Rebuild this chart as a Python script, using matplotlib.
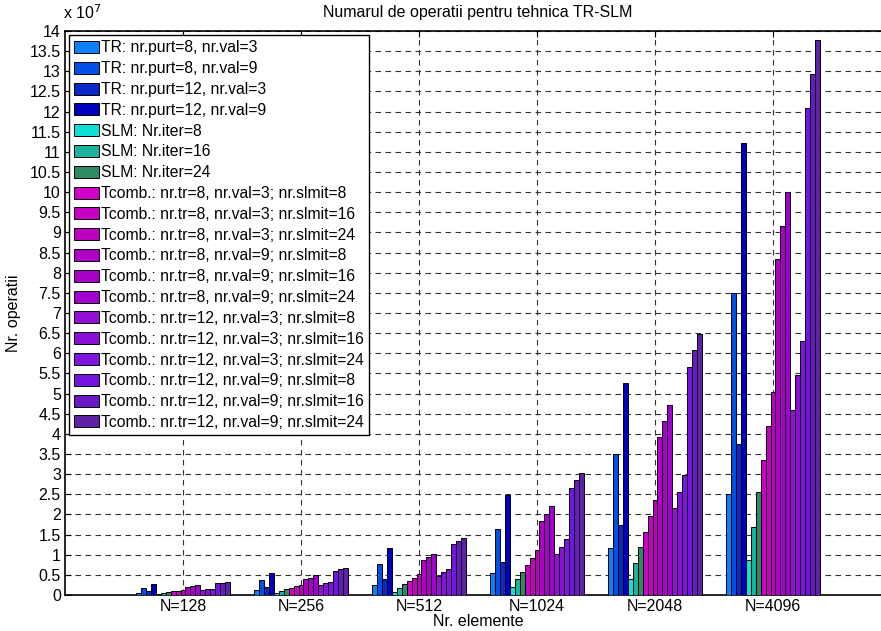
import matplotlib
matplotlib.use("Agg")
import matplotlib.pyplot as plt
import numpy as np

plt.rcParams['font.family'] = ['Liberation Sans', 'DejaVu Sans']

groups = ["N=128", "N=256", "N=512", "N=1024", "N=2048", "N=4096"]

series_labels = [
    "TR: nr.purt=8, nr.val=3",
    "TR: nr.purt=8, nr.val=9",
    "TR: nr.purt=12, nr.val=3",
    "TR: nr.purt=12, nr.val=9",
    "SLM: Nr.iter=8",
    "SLM: Nr.iter=16",
    "SLM: Nr.iter=24",
    "Tcomb.: nr.tr=8, nr.val=3; nr.slmit=8",
    "Tcomb.: nr.tr=8, nr.val=3; nr.slmit=16",
    "Tcomb.: nr.tr=8, nr.val=3; nr.slmit=24",
    "Tcomb.: nr.tr=8, nr.val=9; nr.slmit=8",
    "Tcomb.: nr.tr=8, nr.val=9; nr.slmit=16",
    "Tcomb.: nr.tr=8, nr.val=9; nr.slmit=24",
    "Tcomb.: nr.tr=12, nr.val=3; nr.slmit=8",
    "Tcomb.: nr.tr=12, nr.val=3; nr.slmit=16",
    "Tcomb.: nr.tr=12, nr.val=3; nr.slmit=24",
    "Tcomb.: nr.tr=12, nr.val=9; nr.slmit=8",
    "Tcomb.: nr.tr=12, nr.val=9; nr.slmit=16",
    "Tcomb.: nr.tr=12, nr.val=9; nr.slmit=24",
]

# values in units of 1e7, one list per group (N=128 ... N=4096), 19 series each
n128 = [0.06, 0.18, 0.10, 0.27, 0.02, 0.04, 0.07, 0.09, 0.11, 0.12, 0.19, 0.22, 0.24,
        0.12, 0.14, 0.16, 0.29, 0.31, 0.33]
n256 = [0.12, 0.36, 0.19, 0.55, 0.04, 0.09, 0.14, 0.18, 0.22, 0.26, 0.39, 0.43, 0.50,
        0.26, 0.29, 0.32, 0.59, 0.64, 0.67]
n512 = [0.26, 0.77, 0.39, 1.16, 0.08, 0.18, 0.27, 0.35, 0.43, 0.51, 0.86, 0.94, 1.03,
        0.47, 0.56, 0.65, 1.26, 1.34, 1.41]
n1024 = [0.55, 1.64, 0.82, 2.48, 0.20, 0.39, 0.56, 0.74, 0.93, 1.12, 1.84, 2.02, 2.20,
         1.03, 1.20, 1.39, 2.66, 2.85, 3.03]
n2048 = [1.17, 3.50, 1.75, 5.27, 0.40, 0.79, 1.20, 1.57, 1.97, 2.37, 3.92, 4.31, 4.71,
         2.16, 2.56, 2.97, 5.67, 6.08, 6.47]
n4096 = [2.51, 7.49, 3.74, 11.23, 0.87, 1.70, 2.55, 3.34, 4.19, 5.04, 8.33, 9.17, 10.01,
         4.59, 5.45, 6.30, 12.08, 12.93, 13.77]

colors = [
    "#0A80FF", "#0050E8", "#0A28C8", "#0000BC",
    "#10E0D4", "#18B4A0", "#2E8A62",
    "#D000C8", "#C800C4", "#BC00C0", "#B000C8", "#A800C8", "#A000D0",
    "#9410D4", "#8A10D8", "#8014E0", "#7414E0", "#6A18C4", "#6020A8",
]

data = np.array([n128, n256, n512, n1024, n2048, n4096]) * 1e7

fig = plt.figure(figsize=(8.81, 6.31), dpi=100)
ax = fig.add_axes([65 / 881, 1 - 595 / 631, (891 - 65) / 881, (595 - 31) / 631])

nser = len(series_labels)
x = np.arange(1, len(groups) + 1)
bw = 0.8 / nser
for i in range(nser):
    off = (i - (nser - 1) / 2) * bw
    ax.bar(x + off, data[:, i], width=bw, color=colors[i], edgecolor="black",
           linewidth=0.7, label=series_labels[i], zorder=3)

ax.set_xlim(0, 7)
ax.set_ylim(0, 14e7)
ax.set_xticks(x)
ax.set_xticklabels(groups, fontsize=11.5)
yt = np.arange(0, 14.01, 0.5)
ax.set_yticks(yt * 1e7)
ax.set_yticklabels([("%g" % v) for v in yt], fontsize=11.5)
ax.tick_params(direction="in", length=4, width=0.8, top=True, right=True, pad=3)

ax.grid(True, which="major", color="#333333", linestyle=(0, (5, 4)), linewidth=0.8, zorder=0)
ax.set_axisbelow(True)
for s in ax.spines.values():
    s.set_linewidth(1.2)
    s.set_color("black")
ax.spines["right"].set_visible(False)

ax.set_title("Numarul de operatii pentru tehnica TR-SLM", fontsize=11.5, pad=10)
ax.set_xlabel("Nr. elemente", fontsize=11.5, labelpad=0)
ax.set_ylabel("Nr. operatii", fontsize=11.5, labelpad=6)
ax.text(-0.003, 1.016, r"x 10$^{7}$", transform=ax.transAxes, fontsize=11.5,
        ha="left", va="bottom")

leg = ax.legend(loc="upper left", fontsize=11.3, frameon=True, fancybox=False,
                edgecolor="black", framealpha=1, borderpad=0.35, borderaxespad=0.25,
                handlelength=1.55, handleheight=0.8, handletextpad=0.15,
                labelspacing=0.37)
leg.get_frame().set_linewidth(1.0)
leg.set_zorder(10)

fig.savefig("out.png", dpi=100)
